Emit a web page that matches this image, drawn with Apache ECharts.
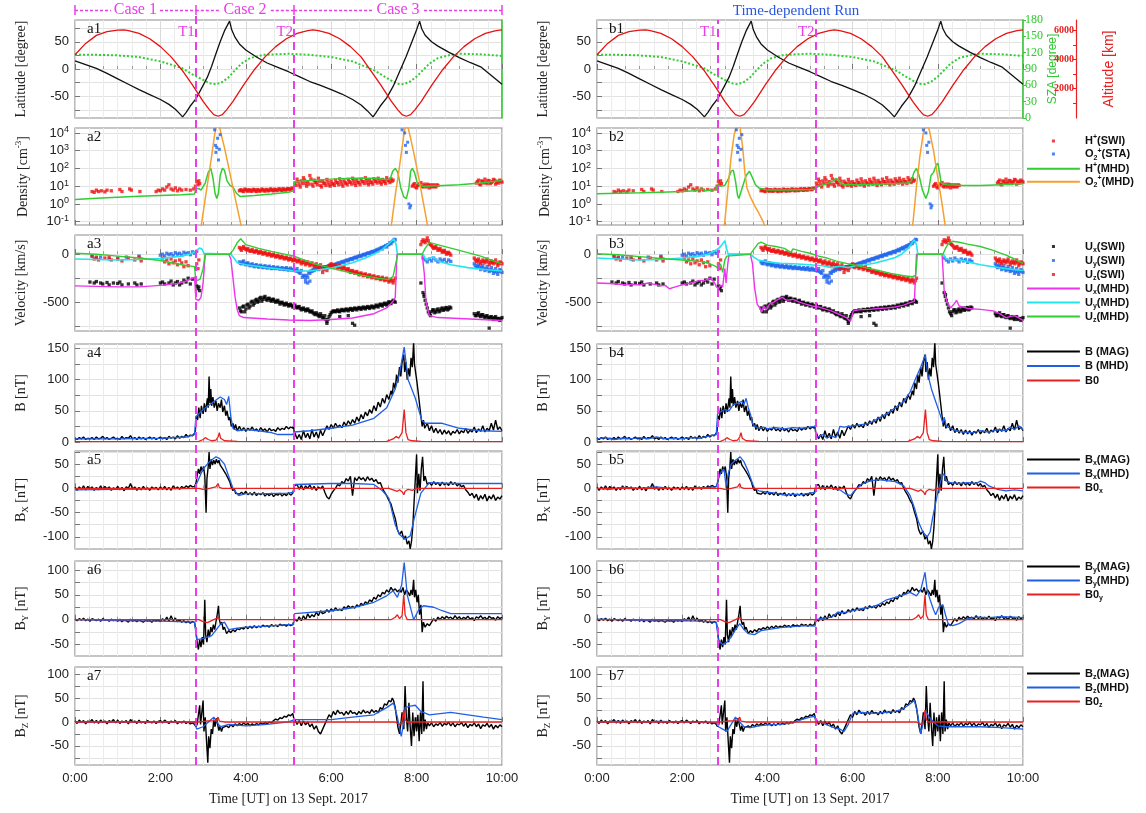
<!DOCTYPE html>
<html><head><meta charset="utf-8">
<script src="https://cdn.jsdelivr.net/npm/echarts@6/dist/echarts.min.js"></script>
<style>html,body{margin:0;padding:0;background:#fff}#c{width:1146px;height:813px}</style>
</head><body><div id="c"></div>
<script>
// ---------- helpers for regularly sampled segments ----------
const seg = (t0, dt, v) => v.map((y, i) => [+(t0 + i * dt).toFixed(3), y]);
const cat = (...a) => [].concat(...a);

// ---------- events / ticks ----------
const T_EVENTS = [2.83, 5.13];
const CASES = ['Case 1', 'Case 2', 'Case 3'];
const TIME_TICKS = [0, 2, 4, 6, 8, 10];
const LAT_LABELS = [-50, 0, 50], LAT_GRID = [-75, -50, -25, 0, 25, 50, 75];
const DEN_LABELS = [0.1, 1, 10, 100, 1000, 10000];
const VEL_LABELS = [-500, 0], VEL_GRID = [-750, -500, -250, 0];
const B_LABELS = [0, 50, 100, 150], B_GRID = [0, 25, 50, 75, 100, 125, 150];
const BX_LABELS = [-100, -50, 0, 50], BX_GRID = [-100, -75, -50, -25, 0, 25, 50, 75];
const BY_LABELS = [-50, 0, 50, 100], BY_GRID = [-50, -25, 0, 25, 50, 75, 100];
const BZ_LABELS = [-50, 0, 50, 100], BZ_GRID = [-75, -50, -25, 0, 25, 50, 75, 100];
const SZA_LABELS = [0, 30, 60, 90, 120, 150, 180];
const ALT_LABELS = [2000, 4000, 6000], ALT_TICKS = [1000, 2000, 3000, 4000, 5000, 6000];

// ---------- panel 1: orbit ----------
const LAT = [[0,15],[0.25,8],[0.5,1],[0.75,-8],[1.0,-18],[1.25,-28],[1.5,-38],[1.75,-47],[2.0,-56],[2.2,-65],[2.35,-74],[2.45,-82],[2.52,-88],[2.6,-80],[2.7,-68],[2.83,-55],[3.0,-30],[3.1,-15],[3.2,5],[3.3,28],[3.4,50],[3.5,70],[3.58,82],[3.62,88],[3.67,72],[3.75,58],[3.85,46],[4.0,35],[4.25,22],[4.5,11],[4.75,3],[5.0,-5],[5.25,-14],[5.5,-23],[5.75,-30],[6.0,-38],[6.25,-46],[6.5,-56],[6.7,-66],[6.85,-77],[6.98,-88],[7.05,-80],[7.15,-68],[7.3,-53],[7.45,-32],[7.6,-5],[7.75,22],[7.9,52],[8.0,72],[8.07,88],[8.12,74],[8.2,62],[8.35,50],[8.5,42],[8.75,31],[9.0,21],[9.25,12],[9.5,4],[9.75,-12],[10,-28]];
const ALT = [[0,4320],[0.25,5100],[0.5,5650],[0.75,5900],[1.0,6010],[1.15,6030],[1.25,5980],[1.5,5790],[1.75,5420],[2.0,4880],[2.25,4180],[2.5,3300],[2.75,2270],[3.0,1135],[3.15,560],[3.25,230],[3.35,120],[3.45,230],[3.55,560],[3.7,1135],[3.95,2270],[4.2,3300],[4.45,4180],[4.7,4880],[4.95,5420],[5.2,5790],[5.45,5980],[5.57,6030],[5.7,5980],[5.95,5790],[6.2,5420],[6.45,4880],[6.7,4180],[6.91,3300],[7.16,2270],[7.41,1135],[7.56,560],[7.66,230],[7.76,120],[7.86,230],[7.96,560],[8.11,1135],[8.36,2270],[8.61,3300],[8.86,4180],[9.11,4880],[9.36,5420],[9.61,5790],[9.86,5980],[10,6020]];
const SZA = [[0,116],[0.5,116],[1.0,115],[1.5,112],[2.0,104],[2.5,92],[2.75,80],[3.0,70],[3.15,64],[3.3,62],[3.45,66],[3.6,75],[3.75,88],[3.9,100],[4.1,110],[4.4,116],[5.0,118],[5.5,116],[6.0,112],[6.5,104],[7.0,88],[7.25,76],[7.4,69],[7.55,63],[7.7,62],[7.85,67],[8.0,76],[8.15,88],[8.3,100],[8.5,110],[8.8,116],[9.0,118],[9.5,117],[10,114]];

// ---------- panel 2: density ----------
const NH_SWI = cat(
  [[0.4,5],[0.45,4.5],[0.5,6],[0.55,5],[0.62,5.5],[0.7,4.8],[0.75,6],[0.85,5.5],[1.05,6.5],[1.1,5],[1.28,7],[1.32,6],[1.52,5],[1.9,5],[1.95,6],[2.0,5.5],[2.05,7],[2.1,6],[2.15,9],[2.2,12],[2.25,7],[2.3,6],[2.35,8],[2.4,5.5],[2.45,7],[2.5,6],[2.6,6.5],[2.7,6],[2.78,7],[2.82,10],[2.85,18],[2.88,12],[2.9,20],[2.92,14]],
  seg(3.85, 0.05, [5.5,6,5,6.5,5.2,6,5.5,6.3,5,6,5.6,6.4,5.3,6.2,5.8,6.6,5.5,6.3,6,6.8,5.8,6.5,6.2,7.2,6.5,7.5]),
  seg(3.875, 0.05, [6.2,5.3,6.8,5.6,6.4,5.1,6.7,5.4,6.5,5.2,6.9,5.5,6.6,5.4,7,5.7,6.8,5.6,7.1,6,7.3,6.1,7.4,6.4,7.8]),
  seg(5.15, 0.05, [15,25,12,20,30,14,18,40,13,22,16,28,11,19,15,24,12,18,14,22,16,26,13,20,15,24,17,28,14,21,16,25,18,30,15,22,17,26,19,28,16,24,18,30,20,26,22]),
  seg(5.175, 0.05, [11,18,9,14,22,10,13,26,10,16,12,19,9,14,11,17,10,13,11,16,12,18,10,15,12,17,13,20,11,16,12,18,14,21,12,16,13,19,15,20,13,18,14,22,16,19]),
  seg(7.9, 0.05, [10,14,8,12,16,9,11,13,8,10,12,9,11]),
  seg(7.925, 0.05, [12,9,11,14,10,13,9,11,12,9,10,12]),
  seg(9.4, 0.05, [15,22,12,18,25,14,20,16,24,13,19,22,17]),
  seg(9.425, 0.05, [18,13,20,15,17,21,14,18,22,16,15,19])
);
const NO2_STA = [[3.22,20000],[3.25,30000],[3.27,15000],[3.29,2000],[3.3,800],[3.32,1500],[3.34,5000],[3.36,300],[3.38,1200],[3.4,8000],[7.66,15000],[7.68,25000],[7.7,30000],[7.72,10000],[7.74,2000],[7.76,800],[7.79,3000],[7.82,1],[7.84,0.6],[7.86,0.8]];
const NH_MHD_A = [[0,1.8],[0.5,2.1],[1,2.4],[1.5,2.7],[2,3.0],[2.5,3.3],[2.8,3.6],[2.83,7],[2.9,7.5],[2.95,6],[3.05,15],[3.12,60],[3.18,100],[3.23,30],[3.28,4],[3.32,2],[3.36,4],[3.4,40],[3.45,100],[3.5,80],[3.56,20],[3.63,11],[3.7,9],[3.78,4],[3.87,2.6],[4.2,3.0],[4.6,3.6],[5.0,4.5],[5.12,5.5],[5.14,18],[5.5,21],[6.0,25],[6.5,28],[7.0,28],[7.3,24],[7.38,25],[7.44,70],[7.5,100],[7.56,60],[7.63,8],[7.7,2.5],[7.76,2],[7.82,8],[7.86,70],[7.9,100],[7.95,60],[8.02,14],[8.13,10],[8.5,10.5],[9.0,12],[9.5,15],[10,21]];
const NH_MHD_B = [[0,3.8],[0.5,4],[1,4.2],[1.5,4.6],[2,5],[2.3,5.5],[2.45,7],[2.55,5.5],[2.8,6.5],[2.83,12],[2.9,10],[3.0,11],[3.08,25],[3.15,70],[3.2,80],[3.25,20],[3.3,3],[3.33,2],[3.37,4],[3.42,10],[3.5,40],[3.58,70],[3.65,30],[3.72,12],[3.8,8],[4.0,6],[4.5,6],[5.0,6.5],[5.12,7],[5.2,10],[5.4,14],[5.55,20],[5.62,28],[5.7,16],[5.8,12],[6.2,12],[6.6,13],[7.0,14],[7.3,15],[7.38,20],[7.44,60],[7.5,100],[7.56,40],[7.64,6],[7.72,2],[7.78,5],[7.84,40],[7.9,60],[7.96,150],[8.0,200],[8.04,60],[8.08,15],[8.2,12],[8.6,11],[9.0,11],[9.5,12],[10,14]];
const NO2_MHD_A = [[2.9,0.01],[2.97,0.1],[3.05,2],[3.12,26],[3.2,500],[3.27,8000],[3.31,25000],[3.34,32000],[3.38,25000],[3.42,9000],[3.5,1500],[3.6,110],[3.7,8],[3.8,0.6],[3.87,0.1],[3.95,0.01],[7.35,0.01],[7.42,0.1],[7.5,3],[7.58,60],[7.66,1500],[7.72,15000],[7.76,32000],[7.8,20000],[7.86,5000],[7.95,500],[8.05,30],[8.15,1.5],[8.24,0.1],[8.3,0.01]];
const NO2_MHD_B = [[2.95,0.01],[3.0,0.1],[3.08,10],[3.15,500],[3.22,8000],[3.28,25000],[3.31,32000],[3.36,20000],[3.42,1500],[3.47,60],[3.52,8],[3.6,2.5],[3.7,0.8],[3.8,0.3],[3.9,0.1],[3.98,0.03],[7.35,0.01],[7.42,0.1],[7.5,10],[7.58,500],[7.66,10000],[7.73,32000],[7.8,15000],[7.9,1000],[8.0,30],[8.1,1],[8.16,0.1],[8.22,0.01]];

// ---------- panel 3: velocity ----------
const UX_SWI = cat(
  [[0.35,-290],[0.45,-300],[0.5,-285],[0.6,-300],[0.65,-310],[0.75,-295],[0.8,-320],[0.9,-300],[1.0,-305],[1.05,-290],[1.1,-320],[1.25,-310],[1.4,-300],[1.45,-320],[1.55,-310],[2.0,-300],[2.05,-290],[2.1,-310],[2.2,-300],[2.25,-280],[2.3,-320],[2.35,-300],[2.4,-285],[2.45,-320],[2.5,-300],[2.55,-270],[2.6,-290],[2.65,-250],[2.7,-310],[2.75,-260],[2.85,-330],[2.88,-360],[2.9,-340],[2.92,-380]],
  seg(3.85, 0.05, [-560,-600,-540,-570,-520,-540,-490,-510,-470,-490,-450,-470,-440,-480,-460,-490,-470,-500,-480,-520,-500,-530,-510,-540,-520,-550,-530,-560,-545,-580,-560,-590,-570,-600,-590,-620,-610,-640,-620,-660,-640,-700,-650,-610,-590,-600,-580,-600,-575,-590,-570,-590,-565,-585,-560,-580,-555,-575,-550,-570,-545,-565,-540,-560,-530,-550,-520,-540,-510,-530,-495,-515,-480,-500]),
  seg(3.875, 0.05, [-590,-550,-600,-530,-560,-500,-530,-480,-500,-460,-490,-450,-470,-460,-480,-470,-490,-490,-500,-505,-515,-520,-525,-530,-535,-545,-550,-550,-565,-570,-575,-580,-585,-600,-610,-630,-625,-650,-640,-670,-680,-680,-630,-600,-595,-590,-595,-585,-585,-580,-580,-575,-575,-570,-570,-565,-565,-560,-560,-555,-555,-550,-550,-545,-540,-530,-530,-520,-520,-510,-505,-495,-490]),
  [[5.9,-720],[6.2,-650],[6.4,-640],[6.5,-720],[6.55,-740],[8.1,-300],[8.18,-420],[9.7,-770]],
  seg(8.15, 0.05, [-400,-480,-560,-620,-600,-580,-600,-570,-590,-560,-575,-555,-570,-560]),
  seg(8.175, 0.05, [-440,-520,-600,-640,-580,-610,-580,-600,-570,-585,-560,-580,-550]),
  seg(9.35, 0.05, [-620,-640,-610,-650,-630,-660,-640,-670,-650,-680,-650,-670,-690,-660]),
  seg(9.375, 0.05, [-640,-620,-640,-630,-650,-645,-660,-655,-670,-660,-680,-670,-675])
);
const UY_SWI = cat(
  [[0.4,-20],[0.5,-40],[0.6,-30],[0.8,-50],[1.0,-40],[1.2,-30],[1.5,-20],[1.55,-50],[2.0,-10],[2.05,0],[2.1,-20],[2.15,10],[2.2,-5],[2.25,5],[2.3,-15],[2.35,15],[2.4,0],[2.45,10],[2.5,-10],[2.55,20],[2.6,5],[2.65,15],[2.7,-5],[2.75,25],[2.8,10],[2.85,30]],
  seg(3.85, 0.05, [-80,-100,-70,-110,-90,-120,-100,-130,-110,-135,-115,-140,-120,-145,-125,-150,-130,-150,-135,-155,-140,-160,-140,-165,-145,-160,-170,-150,-190,-170,-220,-260,-240,-200,-180,-170,-150,-160,-140,-150,-130,-140,-120,-130,-110,-115,-95,-100,-80,-85,-65,-70,-50,-55,-35,-40,-20,-25,-5,-10,10,5,25,20,40,35,60,55,80,75,100,110,140,150]),
  seg(3.875, 0.05, [-95,-80,-100,-95,-110,-110,-120,-115,-125,-125,-130,-130,-135,-135,-140,-140,-145,-145,-150,-150,-155,-150,-160,-155,-165,-165,-175,-180,-200,-240,-230,-220,-190,-175,-160,-155,-150,-145,-140,-135,-130,-125,-120,-115,-105,-100,-90,-85,-75,-70,-60,-55,-45,-40,-30,-25,-15,-10,0,5,15,20,30,35,50,55,70,75,90,100,120,130,155]),
  [[5.4,-290],[5.45,-300],[5.5,-280]],
  seg(8.15, 0.05, [-40,-60,-80,-50,-70,-40,-60,-80,-50,-70,-55,-85,-60,-75]),
  seg(9.35, 0.05, [-100,-140,-110,-160,-120,-170,-130,-180,-140,-200,-150,-210,-160,-190]),
  seg(9.375, 0.05, [-120,-125,-135,-140,-150,-155,-160,-165,-170,-180,-185,-180,-175])
);
const UZ_SWI = cat(
  [[0.4,-20],[0.45,-50],[0.5,-30],[0.55,-60],[0.7,-40],[0.8,-30],[0.85,-60],[1.0,-50],[1.1,-70],[1.25,-40],[1.4,-60],[1.5,-30],[1.55,-70],[2.05,-40],[2.1,-80],[2.15,-60],[2.2,-100],[2.25,-50],[2.3,-90],[2.35,-70],[2.4,-110],[2.45,-60],[2.5,-90],[2.55,-130],[2.6,-80],[2.65,-120],[2.85,-100],[2.88,-150],[2.9,-60]],
  seg(3.85, 0.05, [70,40,80,50,60,30,50,20,40,10,30,0,20,-10,10,-20,0,-30,-10,-40,-20,-50,-30,-60,-40,-70,-50,-80,-60,-100,-70,-110,-80,-120,-90,-130,-100,-150,-110,-190,-130,-170,-120,-100,-140,-110,-150,-120,-160,-130,-170,-150,-190,-170,-200,-180,-215,-195,-225,-205,-235,-215,-245,-225,-255,-235,-265,-240,-275,-250,-290,-260,-300,-250]),
  seg(3.875, 0.05, [55,65,60,45,40,35,30,30,25,20,15,10,5,0,-5,-10,-15,-20,-25,-30,-35,-40,-45,-50,-55,-60,-65,-70,-80,-85,-90,-95,-100,-105,-110,-115,-125,-130,-150,-160,-150,-140,-110,-120,-125,-130,-135,-140,-145,-150,-160,-170,-180,-185,-190,-198,-205,-210,-215,-220,-225,-230,-235,-240,-245,-250,-255,-258,-262,-270,-275,-280,-275]),
  seg(8.1, 0.05, [100,150,120,170,110,90,60,80,40,60,20,40,0,20,-10]),
  seg(8.125, 0.05, [130,135,145,140,100,75,70,60,50,40,30,20,10,5]),
  seg(9.35, 0.05, [-40,-80,-50,-100,-60,-90,-50,-110,-70,-100,-60,-120,-80,-100]),
  seg(9.375, 0.05, [-60,-65,-75,-80,-75,-70,-80,-90,-85,-80,-90,-100,-90])
);
const UX_MHD_A = [[0,-330],[0.5,-335],[1,-340],[1.5,-340],[2,-325],[2.4,-305],[2.6,-280],[2.8,-240],[2.83,-470],[2.9,-480],[2.95,-450],[3.0,-300],[3.05,0],[3.6,0],[3.65,-50],[3.7,-250],[3.75,-450],[3.8,-580],[3.85,-640],[3.95,-660],[4.5,-675],[5.0,-685],[5.5,-690],[6.0,-680],[6.5,-665],[7.0,-620],[7.3,-560],[7.45,-490],[7.5,-450],[7.54,0],[8.13,0],[8.18,-200],[8.22,-500],[8.3,-640],[8.5,-660],[9.0,-670],[9.5,-680],[10,-690]];
const UY_MHD_A = [[0,-50],[0.5,-55],[1,-60],[1.5,-55],[2,-45],[2.5,-20],[2.75,10],[2.85,40],[2.92,65],[2.97,55],[3.02,10],[3.05,0],[3.65,0],[3.72,-40],[3.8,-90],[4.0,-110],[4.5,-140],[5.0,-165],[5.13,-175],[5.5,-175],[6.0,-145],[6.5,-90],[6.8,-40],[7.0,0],[7.2,50],[7.4,130],[7.47,160],[7.52,100],[7.55,0],[8.15,0],[8.22,-60],[8.3,-40],[8.38,-30],[8.5,-70],[8.8,-110],[9.2,-140],[9.6,-160],[10,-175]];
const UZ_MHD_A = [[0,10],[0.5,0],[1,-20],[1.5,-40],[2,-65],[2.5,-110],[2.8,-130],[2.83,-280],[2.93,-260],[3.0,-150],[3.05,0],[3.62,0],[3.7,40],[3.8,120],[3.88,160],[4.0,100],[4.3,60],[4.6,30],[5.13,-20],[5.6,-100],[6.05,-150],[6.6,-210],[7.1,-250],[7.35,-265],[7.45,-230],[7.52,-80],[7.56,0],[8.13,0],[8.2,60],[8.3,120],[8.4,110],[9.0,40],[9.5,-20],[10,-100]];
const UX_MHD_B = [[0,-300],[0.3,-305],[0.6,-315],[1.0,-320],[1.2,-300],[1.35,-315],[1.5,-330],[1.6,-325],[1.7,-360],[1.8,-345],[2.0,-320],[2.2,-300],[2.4,-275],[2.55,-270],[2.65,-250],[2.75,-290],[2.8,-340],[2.85,-360],[2.9,-320],[2.95,-340],[3.0,-150],[3.03,-300],[3.07,-100],[3.1,0],[3.6,0],[3.65,-100],[3.7,-350],[3.76,-520],[3.82,-560],[3.87,-600],[3.92,-540],[3.97,-580],[4.05,-520],[4.15,-500],[4.25,-470],[4.35,-450],[4.45,-480],[4.6,-470],[4.75,-500],[4.9,-520],[5.05,-540],[5.2,-550],[5.35,-570],[5.5,-590],[5.6,-610],[5.75,-640],[5.85,-660],[5.95,-700],[6.02,-590],[6.15,-580],[6.4,-575],[6.6,-565],[6.8,-560],[7.0,-550],[7.2,-530],[7.35,-505],[7.45,-490],[7.5,0],[8.1,0],[8.15,-380],[8.22,-500],[8.3,-560],[8.38,-520],[8.44,-480],[8.5,-540],[8.7,-565],[9.0,-575],[9.3,-590],[9.45,-620],[9.6,-660],[9.8,-640],[10,-690]];
const UY_MHD_B = [[0,-40],[0.5,-50],[1.0,-60],[1.5,-55],[2.0,-40],[2.4,-20],[2.6,0],[2.75,30],[2.88,70],[2.95,110],[3.0,140],[3.04,60],[3.08,0],[3.6,0],[3.68,-30],[3.78,-60],[4.0,-80],[4.3,-95],[4.6,-100],[5.0,-110],[5.3,-120],[5.5,-140],[5.7,-125],[5.9,-140],[6.1,-115],[6.3,-110],[6.5,-95],[6.8,-60],[7.0,-35],[7.15,0],[7.3,60],[7.45,150],[7.5,100],[7.53,0],[8.13,0],[8.2,-50],[8.35,-60],[8.5,-55],[8.7,-80],[9.0,-110],[9.3,-130],[9.6,-150],[10,-170]];
const UZ_MHD_B = [[0,5],[0.5,-5],[1.0,-25],[1.5,-45],[2.0,-60],[2.4,-75],[2.6,-90],[2.8,-130],[2.85,-160],[2.9,-100],[2.95,-190],[3.0,-60],[3.05,-20],[3.08,0],[3.6,0],[3.68,50],[3.78,110],[3.85,125],[4.0,95],[4.2,80],[4.4,60],[4.55,20],[4.6,55],[4.8,30],[5.0,10],[5.2,-20],[5.4,-40],[5.6,-70],[5.8,-90],[6.0,-110],[6.3,-140],[6.6,-170],[6.9,-200],[7.2,-225],[7.4,-235],[7.48,-220],[7.52,0],[8.12,0],[8.18,60],[8.25,110],[8.35,135],[8.5,125],[8.7,105],[9.0,80],[9.3,40],[9.6,-10],[9.8,-50],[10,-95]];

// ---------- panels 4-7: magnetic field ----------
const B_MAG = cat(
  seg(0, 0.05, [6,4,7,5,8,4,6,5,7,4,8,5,6,9,5,7,4,6,8,5,6,4,9,5,7,6,10,5,7,4,8,5,7,4,6,8,5,7,4,6,8,5,7,4,9,6,8,5,10,6,9,7,12,8,11,10,14]),
  [[2.82,18],[2.84,42],[2.87,35],[2.9,55],[2.93,38],[2.96,58],[3.0,45],[3.03,62],[3.06,48],[3.1,70],[3.12,55],[3.14,105],[3.16,62],[3.18,85],[3.2,58],[3.23,72],[3.26,55],[3.3,66],[3.33,50],[3.36,62],[3.4,55],[3.43,68],[3.46,48],[3.5,58],[3.53,42],[3.56,50],[3.6,35],[3.63,40],[3.66,25],[3.7,30],[3.73,20],[3.76,28],[3.8,18],[3.85,25]],
  seg(3.9, 0.05, [18,23,17,22,19,24,18,21,17,23,18,21,16,22,18,20,17,23,19,22,20,25,21,24,22]),
  [[5.12,26],[5.14,8]],
  seg(5.15, 0.05, [15,5,12,4,18,7,14,5,20,8,16,6,19,10]),
  seg(5.85, 0.05, [18,26,20,28,22,30,24,27,23,32,26,34,28,36,30,40,33,44,37,48,42,52,46,58,50,64,56,70,62,76,68]),
  [[7.4,82],[7.43,75],[7.46,95],[7.5,85],[7.53,108],[7.56,95],[7.6,120],[7.63,105],[7.66,128],[7.7,140],[7.72,112],[7.75,128],[7.78,100],[7.81,118],[7.84,105],[7.87,135],[7.9,120],[7.93,160],[7.95,125],[7.98,110],[8.01,95],[8.04,78],[8.07,60],[8.1,42],[8.13,25],[8.16,35],[8.19,22]],
  seg(8.25, 0.05, [30,18,26,15,22,14,20,12,19,13,18,11,17,14,20,13,18,15,22,14,19,16,24,15,21,17,26,16,22,18,30,19,35,20,24,18])
);
const BX_MAG = cat(
  seg(0, 0.05, [2,-4,3,-2,5,-3,4,-1,3,-4,2,-3,5,-2,4,-1,3,-4,1,-2,4,-3,2,-5,3,0,10,-2,3,-4,2,-3,4,-2,1,-4,3,-1,2,-3,3,-2,4,-3,2,-4,5,-1,3,-2,4,0,5,2,6,3,4]),
  [[2.83,10],[2.86,25],[2.89,40],[2.92,30],[2.95,45],[2.98,35],[3.01,45],[3.04,25],[3.07,-50],[3.09,20],[3.12,45],[3.14,75],[3.16,40],[3.19,60],[3.22,48],[3.25,58],[3.28,50],[3.31,60],[3.34,52],[3.37,58],[3.4,48],[3.43,52],[3.46,40],[3.5,42],[3.53,30],[3.56,32],[3.6,18],[3.63,12],[3.66,2],[3.7,-5],[3.73,0],[3.76,-10],[3.8,-6],[3.85,-12]],
  seg(3.9, 0.05, [-8,-12,-6,-13,-9,-14,-8,-15,-10,-13,-9,-16,-11,-15,-10,-17,-12,-14,-10,-16,-11,-15,-9,-14,-10]),
  [[5.12,-8],[5.14,5]],
  seg(5.15, 0.05, [2,8,-2,6,-3,5,0,7,-2,4,-4,3,-1,5]),
  seg(5.85, 0.05, [-8,-18,-22,-12,-5,0,8,5,14,10,20,15,25,-15,22,16,24,18,22,15,24,17,21,14,18,10,12]),
  [[7.2,0],[7.25,-8],[7.3,-15],[7.35,-25],[7.4,-32],[7.45,-48],[7.5,-62],[7.55,-85],[7.6,-95],[7.65,-88],[7.7,-105],[7.74,-98],[7.78,-115],[7.82,-108],[7.85,-125],[7.88,-110],[7.91,-80],[7.94,-30],[7.97,20],[8.0,70],[8.02,-10],[8.05,30],[8.08,-5],[8.11,40],[8.14,65],[8.17,15],[8.2,25],[8.25,8]],
  seg(8.3, 0.05, [12,6,14,8,12,5,13,7,11,6,14,8,12,5,10,3,6,-3,-8,-15,-10,-20,-12,-25,-15,-22,-12,-26,-16,-22,-13,-25,-18,-22,-15])
);
const BY_MAG = cat(
  seg(0, 0.05, [1,-2,2,-1,3,-2,1,-3,2,0,-2,1,-3,2,-1,0,-3,1,-2,0,-3,1,-4,0,-2,-5,1,-3,-1,-4,0,-3,-5,-1,-3,-2,-5,0,-3,-1,-4,2,-2,5,-3,8,-2,3,-4,0,-5,-2,-6,-3,-7,-4,-6]),
  [[2.83,-20],[2.86,-45],[2.89,-60],[2.92,-40],[2.95,-55],[2.98,-35],[3.01,-50],[3.04,40],[3.06,-30],[3.09,-45],[3.12,-20],[3.15,-35],[3.18,-15],[3.21,-25],[3.24,-10],[3.27,-20],[3.3,-5],[3.33,10],[3.36,28],[3.38,0],[3.41,-10],[3.44,-5],[3.47,-20],[3.5,-15],[3.55,-28],[3.6,-22],[3.65,-26],[3.7,-20],[3.75,-24],[3.8,-18],[3.85,-20]],
  seg(3.9, 0.05, [-16,-19,-14,-18,-13,-17,-12,-16,-13,-15,-11,-14,-12,-15,-10,-13,-11,-14,-9,-12,-10,-13,-9,-12,-10]),
  [[5.12,-12],[5.14,2]],
  seg(5.15, 0.05, [5,-3,6,-2,8,0,12,4,10,6,15,8,18,12]),
  seg(5.85, 0.05, [14,20,15,22,17,24,19,21,18,26,22,28,24,27,23,30,26,33,29,36,32,40,36,45,41,50,46,55,52,60,55,65,58,62,56,60]),
  [[7.64,55],[7.68,65],[7.72,50],[7.76,60],[7.8,55],[7.84,48],[7.87,60],[7.9,50],[7.93,80],[7.95,45],[7.98,60],[8.01,35],[8.04,50],[8.07,10],[8.1,30],[8.13,-25],[8.16,-5],[8.2,-15],[8.25,-8],[8.3,-12],[8.35,-5]],
  seg(8.4, 0.05, [2,-3,5,0,6,2,7,3,5,1,8,2,6,0,5,2,7,1,4,-2,6,3,8,2,5,0,7,3,4,-1,6,2,5])
);
const BZ_MAG = cat(
  seg(0, 0.05, [2,-3,4,-1,3,-4,2,0,5,-2,3,-3,4,-1,2,-4,3,0,5,-2,4,-3,2,-1,3,-4,5,0,2,-3,4,-2,1,-3,3,0,-2,2,-3,1,3,-2,4,0,-3,2,-1,3,-4,1,-2,2,-3,0,-4,-2,-5]),
  [[2.83,-10],[2.86,-5],[2.89,15],[2.92,35],[2.94,-5],[2.97,20],[3.0,45],[3.02,-20],[3.05,10],[3.08,-40],[3.11,-85],[3.13,-30],[3.16,-55],[3.19,-15],[3.22,-25],[3.25,5],[3.28,-10],[3.31,8],[3.34,-5],[3.37,-18],[3.4,-8],[3.43,-20],[3.46,-12],[3.5,-16],[3.55,-8],[3.6,-12],[3.65,-5],[3.7,-10],[3.75,-4],[3.8,-8]],
  seg(3.85, 0.05, [-3,-7,-2,-6,-3,-8,-4,-7,-3,-6,-2,-5,-1,-4,0,-2,3,6,4,9,7,12,10,15,13,18]),
  [[5.12,16],[5.14,0]],
  seg(5.15, 0.05, [5,-5,3,-8,2,-6,0,-10,-4,-15,-8,-20,-25,-15,-5,5,15,10,22,15,25,18,20,14,22,16,24,18,20,15,22,17,25,19,22,18,26,20,24,19,30,26,38,35,45,42]),
  [[7.43,50],[7.46,45],[7.5,30],[7.53,10],[7.56,-10],[7.6,-25],[7.63,-5],[7.66,20],[7.7,-15],[7.73,75],[7.76,10],[7.79,-20],[7.82,40],[7.85,-10],[7.88,-50],[7.91,20],[7.94,-30],[7.97,10],[8.0,-20],[8.03,15],[8.06,-40],[8.09,20],[8.12,-25],[8.15,85],[8.17,-20],[8.2,5],[8.23,-15],[8.26,-2]],
  seg(8.3, 0.05, [-8,-2,-10,-4,-7,-1,-9,-3,-6,0,-8,-2,-10,-4,-6,-1,-9,-3,-12,-5,-8,-2,-10,-4,-14,-6,-9,-3,-11,-5,-15,-7,-12,-6,-10])
);
const B_MHD_A = [[0,5],[1,5],[2,6],[2.6,8],[2.8,12],[2.83,40],[3.0,52],[3.2,62],[3.4,72],[3.5,68],[3.55,60],[3.6,73],[3.65,40],[3.7,22],[3.8,18],[4.0,20],[4.3,18],[4.6,15],[4.75,12],[5.1,12],[5.13,16],[5.5,18],[6.0,22],[6.5,27],[7.0,38],[7.3,55],[7.5,85],[7.6,110],[7.71,152],[7.8,100],[7.97,70],[8.12,35],[8.2,30],[8.6,30],[9.0,22],[9.5,18],[10,17]];
const BX_MHD_A = [[0,-3],[1,-2],[2,-1],[2.8,0],[2.85,10],[3.0,40],[3.15,55],[3.3,65],[3.38,62],[3.5,50],[3.6,25],[3.7,0],[3.83,-15],[4.0,-11],[4.5,-11],[5.0,-10],[5.12,-8],[5.14,8],[6.0,10],[6.5,10],[7.0,8],[7.2,-5],[7.35,-20],[7.5,-75],[7.6,-95],[7.73,-105],[7.85,-98],[7.95,-60],[8.1,-10],[8.3,12],[8.8,10],[9.5,10],[10,10]];
const BY_MHD_A = [[0,0],[1,-2],[2,-3],[2.8,-5],[2.85,-40],[3.0,-38],[3.2,-32],[3.4,-10],[3.5,-5],[3.6,-20],[3.8,-17],[4.0,-15],[4.5,-13],[5.0,-10],[5.12,-10],[5.14,12],[6.0,18],[6.5,24],[7.0,35],[7.3,48],[7.45,58],[7.55,45],[7.65,70],[7.71,115],[7.78,50],[7.93,0],[8.05,20],[8.16,28],[8.4,25],[8.6,18],[8.8,12],[10,12]];
const BZ_MHD_A = [[0,0],[1,0],[2,0],[2.8,0],[2.85,-15],[3.0,-10],[3.25,10],[3.4,-10],[3.6,-5],[4.0,-8],[4.5,-5],[5.0,0],[5.14,5],[5.5,5],[6.0,5],[6.5,10],[7.0,15],[7.3,30],[7.46,40],[7.55,10],[7.64,-30],[7.7,0],[7.73,30],[7.85,33],[7.97,35],[8.1,22],[8.3,15],[8.8,20],[9.2,15],[9.57,10],[10,5]];
const B_MHD_B = [[0,5],[0.2,7],[0.4,4],[0.6,6],[0.8,5],[1.0,7],[1.2,5],[1.4,8],[1.6,5],[1.8,6],[2.0,5],[2.2,7],[2.4,6],[2.6,9],[2.8,12],[2.83,45],[2.9,48],[3.0,52],[3.1,50],[3.2,60],[3.3,62],[3.4,65],[3.45,60],[3.5,70],[3.55,55],[3.6,45],[3.65,30],[3.7,25],[3.8,22],[3.9,24],[4.0,21],[4.2,23],[4.4,21],[4.6,23],[4.8,22],[5.0,24],[5.12,25],[5.14,10],[5.2,8],[5.3,12],[5.4,6],[5.5,10],[5.6,7],[5.65,12],[5.7,25],[5.8,24],[6.0,26],[6.2,28],[6.4,30],[6.6,38],[6.8,45],[7.0,55],[7.2,65],[7.35,80],[7.5,105],[7.6,120],[7.71,140],[7.76,110],[7.85,85],[7.95,65],[8.05,45],[8.12,30],[8.15,40],[8.2,25],[8.3,22],[8.4,18],[8.6,16],[8.8,15],[9.0,18],[9.2,16],[9.4,20],[9.6,18],[9.7,24],[9.8,20],[9.9,26],[10,20]];
const BX_MHD_B = [[0,0],[0.3,-2],[0.6,2],[1.0,0],[1.4,3],[1.8,-1],[2.2,1],[2.6,2],[2.8,3],[2.85,20],[2.92,35],[2.98,40],[3.03,5],[3.08,30],[3.15,50],[3.25,58],[3.36,65],[3.45,55],[3.55,35],[3.65,10],[3.7,0],[3.8,-5],[4.0,-8],[4.2,-10],[4.4,-14],[4.6,-12],[4.8,-13],[5.0,-10],[5.12,-8],[5.14,0],[5.3,2],[5.5,0],[5.7,-3],[5.85,-12],[5.95,-15],[6.05,-5],[6.2,8],[6.4,15],[6.6,18],[6.8,16],[7.0,14],[7.2,5],[7.35,-15],[7.45,-40],[7.55,-70],[7.65,-90],[7.75,-100],[7.82,-90],[7.88,-60],[7.95,-30],[8.02,0],[8.1,25],[8.14,30],[8.2,15],[8.3,12],[8.5,10],[8.7,12],[8.9,10],[9.0,15],[9.1,12],[9.2,5],[9.4,-2],[9.6,-5],[9.8,-3],[10,-5]];
const BY_MHD_B = [[0,1],[0.4,0],[0.8,-1],[1.2,-2],[1.6,-3],[2.0,-2],[2.4,-3],[2.8,-5],[2.85,-40],[2.95,-50],[3.05,-45],[3.15,-35],[3.25,-20],[3.35,-8],[3.45,-20],[3.55,-28],[3.7,-30],[3.85,-22],[4.0,-20],[4.3,-16],[4.6,-14],[4.9,-12],[5.12,-13],[5.14,0],[5.3,3],[5.5,5],[5.65,15],[5.8,14],[6.0,18],[6.2,22],[6.4,25],[6.6,30],[6.8,40],[7.0,45],[7.2,50],[7.35,55],[7.5,48],[7.6,60],[7.7,95],[7.75,60],[7.82,40],[7.9,20],[7.95,10],[8.02,25],[8.12,30],[8.18,10],[8.25,-10],[8.35,-12],[8.5,-8],[8.7,2],[8.9,5],[9.2,4],[9.5,6],[9.8,5],[10,4]];
const BZ_MHD_B = [[0,0],[0.5,1],[1.0,0],[1.5,1],[2.0,0],[2.5,-1],[2.8,-2],[2.85,-10],[2.95,-15],[3.05,-20],[3.15,-5],[3.25,10],[3.35,0],[3.45,-10],[3.6,-12],[3.8,-8],[4.0,-6],[4.3,-5],[4.6,-2],[4.8,5],[5.0,10],[5.12,12],[5.14,0],[5.3,-2],[5.5,-10],[5.7,-15],[5.8,-20],[5.9,-5],[6.0,18],[6.2,20],[6.5,18],[6.8,20],[7.0,22],[7.2,28],[7.35,38],[7.45,45],[7.52,20],[7.6,-25],[7.66,0],[7.72,22],[7.8,10],[7.9,0],[8.0,-8],[8.2,-10],[8.5,-10],[9.0,-10],[9.5,-12],[10,-15]];
const B0 = [[0,0.5],[2.9,1],[3.0,4],[3.05,7],[3.12,4],[3.2,2],[3.3,3],[3.35,8],[3.38,15],[3.41,6],[3.5,2],[3.8,1],[5,0.5],[7.3,1],[7.45,5],[7.52,9],[7.58,6],[7.66,15],[7.71,52],[7.75,15],[7.8,4],[7.9,2],[8.1,1],[10,0.5]];
const B0X = [[0,0],[2.9,0],[3.0,-2],[3.1,-1],[3.2,1],[3.3,3],[3.35,10],[3.38,2],[3.45,0],[7.35,0],[7.45,-3],[7.55,-6],[7.6,-3],[7.67,-8],[7.7,-13],[7.73,-6],[7.8,-2],[7.9,-4],[8.0,0],[10,0]];
const B0Y = [[0,0],[2.9,0],[3.0,-4],[3.1,-6],[3.2,-2],[3.3,2],[3.35,5],[3.4,0],[7.4,0],[7.5,5],[7.55,10],[7.6,2],[7.66,8],[7.7,50],[7.73,10],[7.78,0],[10,0]];
const B0Z = [[0,0],[2.9,0],[3.1,2],[3.3,3],[3.35,10],[3.38,2],[3.5,0],[7.5,0],[7.6,-5],[7.65,-3],[7.7,25],[7.73,5],[7.78,0],[10,0]];

// ---------- styling ----------
const SANS = '"Liberation Sans", Arial, sans-serif';
const SERIF = '"Liberation Serif", "Times New Roman", serif';
const MAG = '#e83ee8';
const C = {black:'#000000', blue:'#1f5fe6', red:'#e8201f', green:'#33cc33', orange:'#f5a030', magenta:'#ee33ee', cyan:'#22e6ee', dred:'#ee1111', dblue:'#2266ee'};
const COLS = [{left:75, width:427}, {left:597, width:426}];
const TOPS = [20, 128, 235, 344, 451, 561, 667];
const HTS = [98, 97, 96, 98, 98, 95, 98];

const grids = [], xAxes = [], yAxes = [];
const nameRich = {
  n: {fontFamily: SERIF, fontSize: 14, color: '#222', lineHeight: 18},
  sup: {fontFamily: SERIF, fontSize: 9, color: '#222', lineHeight: 9, verticalAlign: 'top'},
  sub: {fontFamily: SERIF, fontSize: 9, color: '#222', lineHeight: 9, verticalAlign: 'bottom'}
};
const PANELS = [
  {name:'{n|Latitude [degree]}', min:-90, max:90, labels:LAT_LABELS, grid:LAT_GRID},
  {name:'{n|Density [cm}{sup|-3}{n|]}', log:true, min:0.065, max:19000, labels:DEN_LABELS, grid:DEN_LABELS},
  {name:'{n|Velocity [km/s]}', min:-800, max:200, labels:VEL_LABELS, grid:VEL_GRID},
  {name:'{n|B [nT]}', min:0, max:157, labels:B_LABELS, grid:B_GRID},
  {name:'{n|B}{sub|X}{n| [nT]}', min:-125, max:77, labels:BX_LABELS, grid:BX_GRID},
  {name:'{n|B}{sub|Y}{n| [nT]}', min:-73, max:118, labels:BY_LABELS, grid:BY_GRID},
  {name:'{n|B}{sub|Z}{n| [nT]}', min:-90, max:115, labels:BZ_LABELS, grid:BZ_GRID}
];
for (let c = 0; c < 2; c++) for (let p = 0; p < 7; p++) {
  grids.push({left: COLS[c].left, width: COLS[c].width, top: TOPS[p], height: HTS[p], show: true, borderColor: '#8c8c8c', borderWidth: 1.2});
  const gi = grids.length - 1;
  xAxes.push({type:'value', gridIndex:gi, min:0, max:10, interval:2,
    axisLine:{show:false}, axisTick:{inside:true, length:5, lineStyle:{color:'#777'}},
    minorTick:{show:true, splitNumber:6, length:3, lineStyle:{color:'#999'}},
    splitLine:{show:true, lineStyle:{color:'#dadada'}}, minorSplitLine:{show:true, lineStyle:{color:'#ececec'}},
    axisLabel:{show:p === 6, formatter: v => TIME_TICKS.includes(v) ? v + ':00' : '', fontFamily:SANS, fontSize:13, color:'#222', margin:7},
    name: p === 6 ? 'Time [UT] on 13 Sept. 2017' : '', nameLocation:'middle', nameGap:27,
    nameTextStyle:{fontFamily:SERIF, fontSize:14, color:'#222'}});
  const P = PANELS[p];
  const ya = {type: P.log ? 'log' : 'value', gridIndex:gi, min:P.min, max:P.max,
    axisLine:{show:false},
    axisTick:{show:true, inside:true, length:5, customValues:P.grid, lineStyle:{color:'#777'}},
    axisLabel:{customValues:P.labels, fontFamily:SANS, fontSize:13, color:'#222', margin:6},
    splitLine:{show:true, lineStyle:{color:'#e2e2e2'}},
    name:P.name, nameLocation:'middle', nameRotate:90, nameGap: P.log ? 43 : 45,
    nameTextStyle:{rich:nameRich}};
  if (P.log) {
    ya.logBase = 10;
    ya.axisLabel.formatter = v => { const e = Math.round(Math.log10(v)); return '{b|10}{s|' + e + '}'; };
    ya.axisLabel.rich = {b:{fontFamily:SANS, fontSize:13, color:'#222', lineHeight:15}, s:{fontFamily:SANS, fontSize:9, color:'#222', lineHeight:9, verticalAlign:'top'}};
  }
  yAxes.push(ya);
}
// 14: hidden SZA (a1), 15: hidden ALT (a1), 16: SZA (b1), 17: ALT (b1)
yAxes.push({type:'value', gridIndex:0, position:'right', min:0, max:180, axisLine:{show:true, lineStyle:{color:C.green, width:1.5}}, axisTick:{show:false}, axisLabel:{show:false}, splitLine:{show:false}});
yAxes.push({type:'value', gridIndex:0, position:'right', min:0, max:6700, show:false});
yAxes.push({type:'value', gridIndex:7, position:'right', min:0, max:180,
  axisLine:{show:true, lineStyle:{color:C.green, width:1.5}},
  axisTick:{show:true, customValues:SZA_LABELS, length:3, lineStyle:{color:C.green}},
  axisLabel:{customValues:SZA_LABELS, color:'#2fc82f', fontFamily:SERIF, fontSize:12, margin:2},
  splitLine:{show:false}, name:'SZA [degree]', nameLocation:'middle', nameRotate:90, nameGap:19,
  nameTextStyle:{color:'#2fc82f', fontFamily:SANS, fontSize:12}});
yAxes.push({type:'value', gridIndex:7, position:'right', offset:53, min:0, max:6700,
  axisLine:{show:true, lineStyle:{color:'#e82020', width:1.2}},
  axisTick:{show:true, inside:true, customValues:ALT_TICKS, length:3, lineStyle:{color:'#e82020'}},
  axisLabel:{customValues:ALT_LABELS, inside:true, formatter: v => String(v), color:'#e82020', fontFamily:SERIF, fontWeight:'bold', fontSize:10, margin:2},
  splitLine:{show:false}, name:'Altitude [km]', nameLocation:'middle', nameRotate:90, nameGap:26,
  nameTextStyle:{color:'#e82020', fontFamily:SANS, fontSize:14}});
// overlay grids (14 left, 15 right) for event lines
grids.push({left:75, width:427, top:4, height:761, show:false});
grids.push({left:597, width:426, top:20, height:745, show:false});
xAxes.push({type:'value', gridIndex:14, min:0, max:10, show:false});
xAxes.push({type:'value', gridIndex:15, min:0, max:10, show:false});
yAxes.push({type:'value', gridIndex:14, min:0, max:1, show:false});
yAxes.push({type:'value', gridIndex:15, min:0, max:1, show:false});

// ---------- series ----------
const series = [];
function L(g, y, name, data, color, w, z, dash) {
  series.push({type:'line', name, xAxisIndex:g, yAxisIndex:y, data, symbol:'none', showSymbol:false,
    lineStyle:{color, width:w, type:dash || 'solid'}, itemStyle:{color}, z:z || 3, silent:true, animation:false});
}
function S(g, name, data, color, size, z) {
  series.push({type:'scatter', name, xAxisIndex:g, yAxisIndex:g, data, symbol:'rect', symbolSize:size,
    itemStyle:{color}, z:z || 2, silent:true, animation:false, large:false, progressive:0});
}
const RUNS = [
  {g:0, sza:14, alt:15, nh:NH_MHD_A, o2:NO2_MHD_A, ux:UX_MHD_A, uy:UY_MHD_A, uz:UZ_MHD_A, b:B_MHD_A, bx:BX_MHD_A, by:BY_MHD_A, bz:BZ_MHD_A},
  {g:7, sza:16, alt:17, nh:NH_MHD_B, o2:NO2_MHD_B, ux:UX_MHD_B, uy:UY_MHD_B, uz:UZ_MHD_B, b:B_MHD_B, bx:BX_MHD_B, by:BY_MHD_B, bz:BZ_MHD_B}
];
RUNS.forEach(r => {
  const g = r.g;
  L(g, g, 'Latitude', LAT, '#111', 1.3, 4);
  L(g, r.alt, 'Altitude', ALT, '#e81010', 1.3, 4);
  L(g, r.sza, 'SZA', SZA, C.green, 2, 3, [2, 2]);
  S(g + 1, 'H^+(SWI)', NH_SWI, C.dred, 3.3, 2);
  L(g + 1, g + 1, 'H^+(MHD)', r.nh, C.green, 1.5, 4);
  L(g + 1, g + 1, 'O_2^+(MHD)', r.o2, C.orange, 1.5, 4);
  S(g + 1, 'O_2^+(STA)', NO2_STA, C.dblue, 3, 5);
  S(g + 2, 'U_x(SWI)', UX_SWI, '#000', 3.3, 2);
  S(g + 2, 'U_y(SWI)', UY_SWI, C.dblue, 3.3, 2);
  S(g + 2, 'U_z(SWI)', UZ_SWI, C.dred, 3.3, 2);
  L(g + 2, g + 2, 'U_x(MHD)', r.ux, C.magenta, 1.4, 4);
  L(g + 2, g + 2, 'U_y(MHD)', r.uy, C.cyan, 1.6, 4);
  L(g + 2, g + 2, 'U_z(MHD)', r.uz, C.green, 1.4, 4);
  L(g + 3, g + 3, 'B (MAG)', B_MAG, '#000', 1.4, 3);
  L(g + 3, g + 3, 'B (MHD)', r.b, C.blue, 1.3, 4);
  L(g + 3, g + 3, 'B0', B0, C.red, 1.3, 5);
  L(g + 4, g + 4, 'B_x(MAG)', BX_MAG, '#000', 1.4, 3);
  L(g + 4, g + 4, 'B_x(MHD)', r.bx, C.blue, 1.3, 4);
  L(g + 4, g + 4, 'B0_x', B0X, C.red, 1.3, 5);
  L(g + 5, g + 5, 'B_y(MAG)', BY_MAG, '#000', 1.4, 3);
  L(g + 5, g + 5, 'B_y(MHD)', r.by, C.blue, 1.3, 4);
  L(g + 5, g + 5, 'B0_y', B0Y, C.red, 1.3, 5);
  L(g + 6, g + 6, 'B_z(MAG)', BZ_MAG, '#000', 1.4, 3);
  L(g + 6, g + 6, 'B_z(MHD)', r.bz, C.blue, 1.3, 4);
  L(g + 6, g + 6, 'B0_z', B0Z, C.red, 1.3, 5);
});
// event lines + case bar
const TL = T_EVENTS.map(t => [{coord:[t, 0]}, {coord:[t, 0.985]}]);
const bounds = [0, T_EVENTS[0], T_EVENTS[1], 10];
const caseBar = [];
for (let i = 0; i < 3; i++) caseBar.push([{coord:[bounds[i], 0.9921], lineStyle:{type:[3, 2], width:1.3}}, {coord:[bounds[i + 1], 0.9921]}]);
bounds.forEach(b => caseBar.push([{coord:[b, 0.9987], lineStyle:{type:'solid', width:1.5}}, {coord:[b, 0.9855]}]));
series.push({type:'line', xAxisIndex:14, yAxisIndex:18, data:[[0, -1]], symbol:'none', silent:true, z:10, animation:false,
  markLine:{silent:true, symbol:['none', 'none'], animation:false, label:{show:false},
    lineStyle:{color:MAG, type:[8, 5], width:2}, data: TL.concat(caseBar)}});
series.push({type:'line', xAxisIndex:15, yAxisIndex:19, data:[[0, -1]], symbol:'none', silent:true, z:10, animation:false,
  markLine:{silent:true, symbol:['none', 'none'], animation:false, label:{show:false},
    lineStyle:{color:MAG, type:[8, 5], width:2}, data: T_EVENTS.map(t => [{coord:[t, 0]}, {coord:[t, 1]}])}});

// ---------- legends ----------
const LINE_ICON = 'path://M0,-5L0.1,-5M0,-1L53,-1L53,1L0,1ZM53,5L53.1,5';
const DOT_ICON = 'path://M0,-5L0.1,-5M25,-1.5L28,-1.5L28,1.5L25,1.5ZM53,5L53.1,5';
function richName(name) {
  let out = '', buf = '';
  for (let i = 0; i < name.length; i++) {
    const ch = name[i];
    if (ch === '_' || ch === '^') {
      if (buf) { out += '{t|' + buf + '}'; buf = ''; }
      out += '{' + (ch === '_' ? 'sub' : 'sup') + '|' + name[i + 1] + '}';
      i++;
    } else buf += ch;
  }
  if (buf) out += '{t|' + buf + '}';
  return out;
}
const legRich = {
  t: {fontFamily:SANS, fontWeight:'bold', fontSize:11, color:'#111', lineHeight:14},
  sup: {fontFamily:SANS, fontWeight:'bold', fontSize:7, color:'#111', lineHeight:7, verticalAlign:'top'},
  sub: {fontFamily:SANS, fontWeight:'bold', fontSize:7, color:'#111', lineHeight:7, verticalAlign:'bottom'}
};
const LEGENDS = [
  {top:134, gap:0.6, items:[['H^+(SWI)', 1], ['O_2^+(STA)', 1], ['H^+(MHD)', 0], ['O_2^+(MHD)', 0]]},
  {top:241, gap:1.5, items:[['U_x(SWI)', 1], ['U_y(SWI)', 1], ['U_z(SWI)', 1], ['U_x(MHD)', 0], ['U_y(MHD)', 0], ['U_z(MHD)', 0]]},
  {top:346, gap:3.5, items:[['B (MAG)', 0], ['B (MHD)', 0], ['B0', 0]]},
  {top:454, gap:1.5, items:[['B_x(MAG)', 0], ['B_x(MHD)', 0], ['B0_x', 0]]},
  {top:561, gap:1.5, items:[['B_y(MAG)', 0], ['B_y(MHD)', 0], ['B0_y', 0]]},
  {top:668, gap:1.5, items:[['B_z(MAG)', 0], ['B_z(MHD)', 0], ['B0_z', 0]]}
];
const legend = LEGENDS.map(l => ({orient:'vertical', left:1027, top:l.top, itemWidth:53, itemHeight:10, itemGap:l.gap,
  selectedMode:false, padding:0, itemStyle:{borderWidth:0}, formatter: richName, textStyle:{rich:legRich},
  data: l.items.map(([n, d]) => ({name:n, icon: d ? DOT_ICON : LINE_ICON}))}));

// ---------- text annotations ----------
const graphic = [];
for (let c = 0; c < 2; c++) for (let p = 0; p < 7; p++) {
  graphic.push({type:'text', x: COLS[c].left + 12, y: TOPS[p] + 2, z:100,
    style:{text:(c ? 'b' : 'a') + (p + 1), font:'15px ' + SERIF, fill:'#111'}});
}
const xOf = (c, t) => COLS[c].left + t / 10 * COLS[c].width;
for (let c = 0; c < 2; c++) T_EVENTS.forEach((t, i) => graphic.push({type:'text', x: xOf(c, t) - 1, y: 25, z:100,
  style:{text:'T' + (i + 1), font:'15px ' + SERIF, fill:MAG, textAlign:'right'}}));
CASES.forEach((s, i) => graphic.push({type:'text', x: xOf(0, (bounds[i] + bounds[i + 1]) / 2), y: 10, z:100,
  style:{text:s, font:'16px ' + SERIF, fill:MAG, textAlign:'center', textVerticalAlign:'middle', backgroundColor:'#fff', padding:[0, 3]}}));
graphic.push({type:'text', x: 796, y: 11, z:100,
  style:{text:'Time-dependent Run', font:'15px ' + SERIF, fill:'#2a55e0', textAlign:'center', textVerticalAlign:'middle'}});

const chart = echarts.init(document.getElementById('c'), null, {renderer:'canvas'});
chart.setOption({animation:false, backgroundColor:'#fff', grid:grids, xAxis:xAxes, yAxis:yAxes, series, legend, graphic});
</script></body></html>
